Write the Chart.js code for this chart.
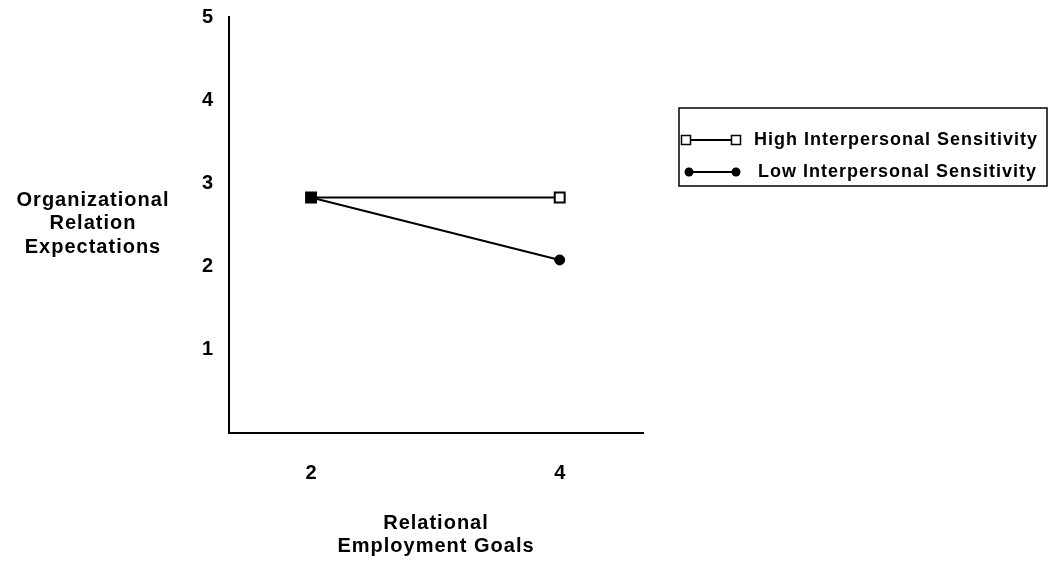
<!DOCTYPE html>
<html>
<head>
<meta charset="utf-8">
<script src="https://cdn.jsdelivr.net/npm/chart.js@4.4.0/dist/chart.umd.min.js"></script>
<style>
    html, body { margin: 0; padding: 0; background: #fff; overflow: hidden; }
    canvas { display: block; }
</style>
</head>
<body>
<canvas id="chart" width="1052" height="564"></canvas>
<script>
// 数据
const goalLevels = [2, 4];                      // 横轴: Relational Employment Goals
const highSensitivity = [2.83, 2.83];
const lowSensitivity = [2.83, 2.08];
const yTicks = [1, 2, 3, 4, 5];
const seriesNames = ['High Interpersonal Sensitivity', 'Low Interpersonal Sensitivity'];
const yTitleLines = ['Organizational', 'Relation', 'Expectations'];
const xTitleLines = ['Relational', 'Employment Goals'];

const FONT = '"Liberation Sans", Arial, sans-serif';

// 标题和图例 (画在canvas上)
const extrasPlugin = {
    id: 'extras',
    afterDraw(chart) {
        const ctx = chart.ctx;
        const area = chart.chartArea;
        ctx.save();
        ctx.fillStyle = '#000';
        ctx.textAlign = 'center';
        ctx.textBaseline = 'middle';
        ctx.font = 'bold 20px ' + FONT;
        ctx.letterSpacing = '1px';

        // y轴标题 (水平)
        yTitleLines.forEach((t, i) => ctx.fillText(t, 93, 200 + i * 23.5));

        // x轴标题
        const cx = (area.left + area.right) / 2;
        xTitleLines.forEach((t, i) => ctx.fillText(t, cx, 523 + i * 23));

        // 图例
        ctx.lineWidth = 1.5;
        ctx.strokeStyle = '#000';
        ctx.strokeRect(679, 108, 368, 78);

        const rows = [140, 172];
        ctx.font = 'bold 18px ' + FONT;
        ctx.textAlign = 'left';
        rows.forEach((y, i) => {
            const x0 = i === 0 ? 686 : 689;
            const x1 = 736;
            ctx.lineWidth = 2;
            ctx.beginPath();
            ctx.moveTo(x0, y);
            ctx.lineTo(x1, y);
            ctx.stroke();
            [x0, x1].forEach(x => {
                if (i === 0) {
                    ctx.fillStyle = '#fff';
                    ctx.fillRect(x - 4.5, y - 4.5, 9, 9);
                    ctx.lineWidth = 1.5;
                    ctx.strokeRect(x - 4.5, y - 4.5, 9, 9);
                } else {
                    ctx.fillStyle = '#000';
                    ctx.beginPath();
                    ctx.arc(x, y, 4.5, 0, Math.PI * 2);
                    ctx.fill();
                }
            });
            ctx.fillStyle = '#000';
            ctx.fillText(seriesNames[i], i === 0 ? 754 : 758, y);
        });
        ctx.restore();
    }
};

const ctx = document.getElementById('chart').getContext('2d');
new Chart(ctx, {
    type: 'line',
    data: {
        datasets: [
            {
                label: seriesNames[1],
                data: goalLevels.map((x, i) => ({ x: x, y: lowSensitivity[i] })),
                borderColor: '#000',
                borderWidth: 2,
                pointStyle: 'circle',
                pointRadius: 5,
                pointBackgroundColor: '#000',
                pointBorderColor: '#000',
                pointBorderWidth: 1,
                tension: 0
            },
            {
                label: seriesNames[0],
                data: goalLevels.map((x, i) => ({ x: x, y: highSensitivity[i] })),
                borderColor: '#000',
                borderWidth: 2,
                pointStyle: 'rect',
                pointRadius: 7,
                pointBackgroundColor: ['#000', '#fff'],
                pointBorderColor: '#000',
                pointBorderWidth: 2,
                tension: 0
            }
        ]
    },
    options: {
        responsive: false,
        animation: false,
        devicePixelRatio: 1,
        layout: { padding: { top: 17, right: 409, left: 0, bottom: 0 } },
        plugins: {
            legend: { display: false },
            tooltip: { enabled: false }
        },
        scales: {
            x: {
                type: 'linear',
                min: 1.34,
                max: 4.67,
                afterBuildTicks: (scale) => {
                    scale.ticks = goalLevels.map(v => ({ value: v }));
                },
                afterFit: (scale) => {
                    scale.height = 131;
                    scale.paddingLeft = 0;
                    scale.paddingRight = 0;
                },
                grid: { display: false, drawTicks: false },
                border: { color: '#000', width: 2 },
                ticks: {
                    color: '#000',
                    padding: 28,
                    font: { family: FONT, size: 20, weight: 'bold' },
                    maxRotation: 0
                }
            },
            y: {
                min: 0,
                max: 5,
                afterBuildTicks: (scale) => {
                    scale.ticks = yTicks.map(v => ({ value: v }));
                },
                afterFit: (scale) => {
                    scale.width = 229;
                    scale.paddingTop = 0;
                    scale.paddingBottom = 0;
                },
                grid: { display: false, drawTicks: false },
                border: { color: '#000', width: 2 },
                ticks: {
                    color: '#000',
                    padding: 16,
                    font: { family: FONT, size: 20, weight: 'bold' }
                }
            }
        }
    },
    plugins: [extrasPlugin]
});
</script>
</body>
</html>
